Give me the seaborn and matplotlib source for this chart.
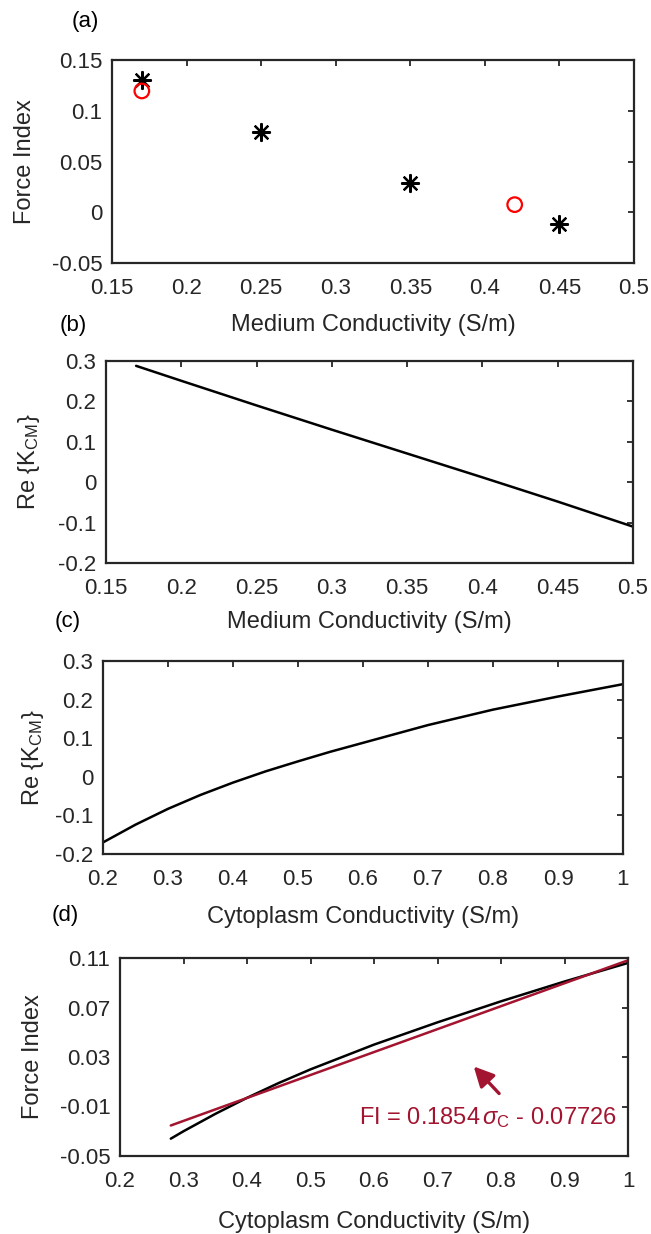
import numpy as np
import pandas as pd
import seaborn as sns
import matplotlib
matplotlib.use("Agg")
import matplotlib.pyplot as plt

# ---- data -------------------------------------------------------------
# (a) force index vs medium conductivity
sim_sigma_m = [0.17, 0.25, 0.35, 0.45]
sim_force = [0.130, 0.0795, 0.029, -0.0115]
exp_sigma_m = [0.17, 0.42]
exp_force = [0.1195, 0.0075]

# (b) Re{K_CM} vs medium conductivity
b_sigma_m = [0.17, 0.20, 0.25, 0.30, 0.35, 0.40, 0.45, 0.50]
b_kcm = [0.288, 0.251, 0.190, 0.130, 0.071, 0.012, -0.048, -0.110]

# (c) Re{K_CM} vs cytoplasm conductivity
c_sigma_c = [0.20, 0.25, 0.30, 0.35, 0.40, 0.45, 0.50, 0.55, 0.60,
             0.70, 0.80, 0.90, 1.00]
c_kcm = [-0.170, -0.124, -0.083, -0.047, -0.015, 0.014, 0.040, 0.065, 0.088,
         0.134, 0.174, 0.208, 0.240]

# (d) force index vs cytoplasm conductivity, with its linear fit
d_sigma_c = [0.28, 0.30, 0.35, 0.40, 0.45, 0.50, 0.55, 0.60, 0.65, 0.70,
             0.80, 0.90, 1.00]
d_force = [-0.036, -0.030, -0.016, -0.003, 0.009, 0.020, 0.030, 0.040, 0.049,
           0.058, 0.075, 0.091, 0.106]
fit_slope = 0.1854
fit_intercept = -0.07726
fit_range = [0.28, 1.00]

# tick labels
a_xticks = [0.15, 0.2, 0.25, 0.3, 0.35, 0.4, 0.45, 0.5]
a_xlabels = ["0.15", "0.2", "0.25", "0.3", "0.35", "0.4", "0.45", "0.5"]
a_yticks = [-0.05, 0, 0.05, 0.1, 0.15]
a_ylabels = ["-0.05", "0", "0.05", "0.1", "0.15"]
k_yticks = [-0.2, -0.1, 0, 0.1, 0.2, 0.3]
k_ylabels = ["-0.2", "-0.1", "0", "0.1", "0.2", "0.3"]
c_xticks = [0.2, 0.3, 0.4, 0.5, 0.6, 0.7, 0.8, 0.9, 1.0]
c_xlabels = ["0.2", "0.3", "0.4", "0.5", "0.6", "0.7", "0.8", "0.9", "1"]
d_yticks = [-0.05, -0.01, 0.03, 0.07, 0.11]
d_ylabels = ["-0.05", "-0.01", "0.03", "0.07", "0.11"]

# ---- style ------------------------------------------------------------
sns.set_style("white")
plt.rcParams["font.family"] = ["Liberation Sans", "DejaVu Sans"]
plt.rcParams["mathtext.fontset"] = "custom"
plt.rcParams["mathtext.rm"] = "Liberation Sans"
plt.rcParams["mathtext.it"] = "Liberation Sans:italic"
plt.rcParams["axes.unicode_minus"] = False

INK = "#262626"
FIT_RED = "#A2142F"
W, H = 651, 1234
fig = plt.figure(figsize=(W / 100, H / 100), dpi=100)


def add_axes(left, right, top, bottom):
    return fig.add_axes([left / W, 1 - bottom / H, (right - left) / W, (bottom - top) / H])


def style(ax, xticks, xlabels, yticks, ylabels, xlim, ylim, xlabel, ylabel):
    ax.set_xlim(*xlim)
    ax.set_ylim(*ylim)
    ax.set_xticks(xticks)
    ax.set_xticklabels(xlabels)
    ax.set_yticks(yticks)
    ax.set_yticklabels(ylabels)
    ax.tick_params(direction="in", top=True, right=True, length=4, width=1.3,
                   colors=INK, labelsize=16)
    ax.tick_params(axis="x", pad=11)
    ax.tick_params(axis="y", pad=7)
    for sp in ax.spines.values():
        sp.set_visible(True)
        sp.set_linewidth(1.6)
        sp.set_color(INK)
    ax.set_xlabel(xlabel, fontsize=17, color=INK)
    ax.set_ylabel(ylabel, fontsize=17, color=INK)
    ax.grid(False)


def place_labels(ax, box, xlab_y, ylab_x):
    left, right, top, bottom = box
    h = bottom - top
    w = right - left
    ax.xaxis.set_label_coords(0.5, -(xlab_y - bottom) / h)
    ax.xaxis.label.set_va("center")
    ax.yaxis.set_label_coords(-(left - ylab_x) / w, 0.5)
    ax.yaxis.label.set_va("center")


# (a)
box_a = (112, 634, 60, 263)
ax_a = add_axes(*box_a)
sns.scatterplot(x=sim_sigma_m, y=sim_force, ax=ax_a, marker=(8, 2, 0), s=150,
                color="black", linewidth=1.6)
sns.scatterplot(x=exp_sigma_m, y=exp_force, ax=ax_a, marker="o", s=110,
                facecolor="none", edgecolor="red", linewidth=1.6)
style(ax_a, a_xticks, a_xlabels, a_yticks, a_ylabels, (0.15, 0.5), (-0.05, 0.15),
      "Medium Conductivity (S/m)", "Force Index")
place_labels(ax_a, box_a, 325, 25)

# (b)
box_b = (106, 633, 361, 563)
ax_b = add_axes(*box_b)
sns.lineplot(x=b_sigma_m, y=b_kcm, ax=ax_b, color="black", linewidth=1.8)
style(ax_b, a_xticks, a_xlabels, k_yticks, k_ylabels, (0.15, 0.5), (-0.2, 0.3),
      "Medium Conductivity (S/m)", r"Re {K$_{\mathrm{CM}}$}")
place_labels(ax_b, box_b, 622, 29)

# (c)
box_c = (103, 623, 661, 854)
ax_c = add_axes(*box_c)
sns.lineplot(x=c_sigma_c, y=c_kcm, ax=ax_c, color="black", linewidth=1.8)
style(ax_c, c_xticks, c_xlabels, k_yticks, k_ylabels, (0.2, 1.0), (-0.2, 0.3),
      "Cytoplasm Conductivity (S/m)", r"Re {K$_{\mathrm{CM}}$}")
place_labels(ax_c, box_c, 917, 33)

# (d)
box_d = (120, 628, 958, 1156)
ax_d = add_axes(*box_d)
sns.lineplot(x=d_sigma_c, y=d_force, ax=ax_d, color="black", linewidth=1.8)
fit_x = np.array(fit_range)
fit_df = pd.DataFrame({"x": fit_x, "y": fit_slope * fit_x + fit_intercept})
sns.lineplot(data=fit_df, x="x", y="y", ax=ax_d, color=FIT_RED, linewidth=1.8)
style(ax_d, c_xticks, c_xlabels, d_yticks, d_ylabels, (0.2, 1.0), (-0.05, 0.11),
      "Cytoplasm Conductivity (S/m)", "Force Index")
place_labels(ax_d, box_d, 1222, 33)
ax_d.text(0.577, -0.0186,
          r"FI = %.4f$\,\sigma_{\mathrm{C}}$ - %.5f" % (fit_slope, -fit_intercept),
          color=FIT_RED, fontsize=17, ha="left", va="center")
ax_d.annotate("", xy=(0.757, 0.0224), xytext=(0.797, 0.0005),
              arrowprops=dict(arrowstyle="-|>,head_length=1.2,head_width=0.6",
                              color=FIT_RED, lw=2.4, shrinkA=0, shrinkB=0))

# panel letters
for lbl, (px, py) in zip(["(a)", "(b)", "(c)", "(d)"],
                         [(85, 22), (73, 325), (68, 622), (65, 915)]):
    fig.text(px / W, 1 - py / H, lbl, fontsize=16, color="black",
             ha="center", va="center")

fig.savefig("out.png", dpi=100)
